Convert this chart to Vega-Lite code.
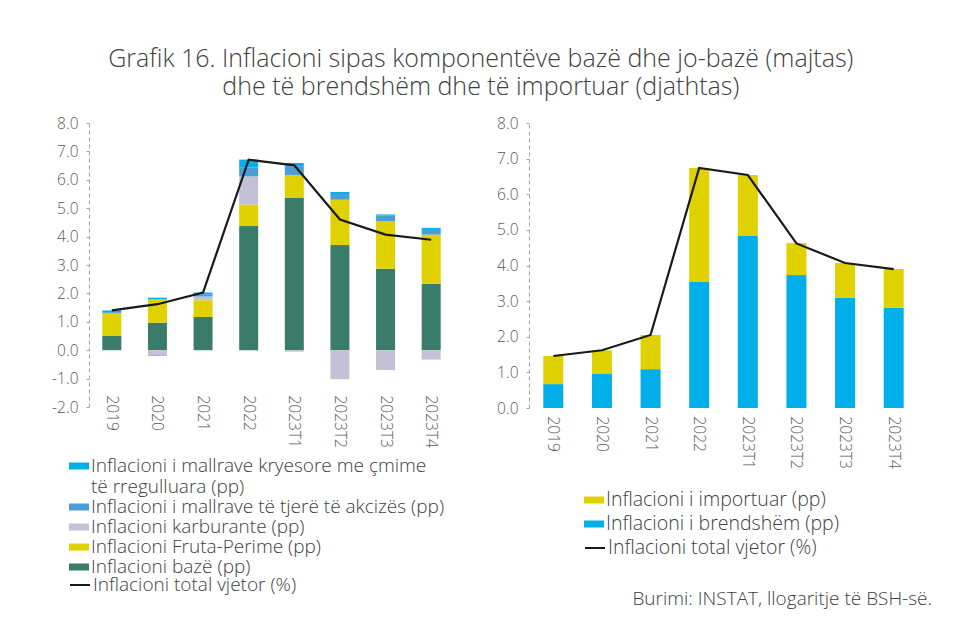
{
  "$schema": "https://vega.github.io/schema/vega-lite/v6.json",
  "background": "white",
  "padding": {"left": 51, "top": 47, "right": 5, "bottom": 5},
  "title": {
    "text": ["Grafik 16. Inflacioni sipas komponentëve bazë dhe jo-bazë (majtas)", "dhe të brendshëm dhe të importuar (djathtas)"],
    "fontSize": 25,
    "font": "Open Sans",
    "fontWeight": 300,
    "color": "#404040",
    "anchor": "middle",
    "lineHeight": 28,
    "offset": 16,
    "dx": -11
  },
  "datasets": {
    "left": [
      {"p": "2019", "c": "Inflacioni bazë (pp)", "v": 0.50},
      {"p": "2019", "c": "Inflacioni Fruta-Perime (pp)", "v": 0.80},
      {"p": "2019", "c": "Inflacioni karburante (pp)", "v": 0.0},
      {"p": "2019", "c": "Inflacioni i mallrave të tjerë të akcizës (pp)", "v": 0.04},
      {"p": "2019", "c": "Inflacioni i mallrave kryesore me çmime të rregulluara (pp)", "v": 0.06},
      {"p": "2020", "c": "Inflacioni bazë (pp)", "v": 0.97},
      {"p": "2020", "c": "Inflacioni Fruta-Perime (pp)", "v": 0.82},
      {"p": "2020", "c": "Inflacioni karburante (pp)", "v": -0.18},
      {"p": "2020", "c": "Inflacioni i mallrave të tjerë të akcizës (pp)", "v": -0.02},
      {"p": "2020", "c": "Inflacioni i mallrave kryesore me çmime të rregulluara (pp)", "v": 0.06},
      {"p": "2021", "c": "Inflacioni bazë (pp)", "v": 1.17},
      {"p": "2021", "c": "Inflacioni Fruta-Perime (pp)", "v": 0.59},
      {"p": "2021", "c": "Inflacioni karburante (pp)", "v": 0.13},
      {"p": "2021", "c": "Inflacioni i mallrave të tjerë të akcizës (pp)", "v": 0.08},
      {"p": "2021", "c": "Inflacioni i mallrave kryesore me çmime të rregulluara (pp)", "v": 0.06},
      {"p": "2022", "c": "Inflacioni bazë (pp)", "v": 4.37},
      {"p": "2022", "c": "Inflacioni Fruta-Perime (pp)", "v": 0.76},
      {"p": "2022", "c": "Inflacioni karburante (pp)", "v": 0.99},
      {"p": "2022", "c": "Inflacioni i mallrave të tjerë të akcizës (pp)", "v": 0.32},
      {"p": "2022", "c": "Inflacioni i mallrave kryesore me çmime të rregulluara (pp)", "v": 0.27},
      {"p": "2023T1", "c": "Inflacioni bazë (pp)", "v": 5.36},
      {"p": "2023T1", "c": "Inflacioni Fruta-Perime (pp)", "v": 0.81},
      {"p": "2023T1", "c": "Inflacioni karburante (pp)", "v": -0.05},
      {"p": "2023T1", "c": "Inflacioni i mallrave të tjerë të akcizës (pp)", "v": 0.31},
      {"p": "2023T1", "c": "Inflacioni i mallrave kryesore me çmime të rregulluara (pp)", "v": 0.11},
      {"p": "2023T2", "c": "Inflacioni bazë (pp)", "v": 3.70},
      {"p": "2023T2", "c": "Inflacioni Fruta-Perime (pp)", "v": 1.60},
      {"p": "2023T2", "c": "Inflacioni karburante (pp)", "v": -1.02},
      {"p": "2023T2", "c": "Inflacioni i mallrave të tjerë të akcizës (pp)", "v": 0.20},
      {"p": "2023T2", "c": "Inflacioni i mallrave kryesore me çmime të rregulluara (pp)", "v": 0.07},
      {"p": "2023T3", "c": "Inflacioni bazë (pp)", "v": 2.87},
      {"p": "2023T3", "c": "Inflacioni Fruta-Perime (pp)", "v": 1.67},
      {"p": "2023T3", "c": "Inflacioni karburante (pp)", "v": -0.70},
      {"p": "2023T3", "c": "Inflacioni i mallrave të tjerë të akcizës (pp)", "v": 0.21},
      {"p": "2023T3", "c": "Inflacioni i mallrave kryesore me çmime të rregulluara (pp)", "v": 0.03},
      {"p": "2023T4", "c": "Inflacioni bazë (pp)", "v": 2.34},
      {"p": "2023T4", "c": "Inflacioni Fruta-Perime (pp)", "v": 1.73},
      {"p": "2023T4", "c": "Inflacioni karburante (pp)", "v": -0.33},
      {"p": "2023T4", "c": "Inflacioni i mallrave të tjerë të akcizës (pp)", "v": 0.20},
      {"p": "2023T4", "c": "Inflacioni i mallrave kryesore me çmime të rregulluara (pp)", "v": 0.04}
    ],
    "leftTotal": [
      {"p": "2019", "t": 1.40},
      {"p": "2020", "t": 1.62},
      {"p": "2021", "t": 2.03},
      {"p": "2022", "t": 6.71},
      {"p": "2023T1", "t": 6.51},
      {"p": "2023T2", "t": 4.60},
      {"p": "2023T3", "t": 4.07},
      {"p": "2023T4", "t": 3.89}
    ],
    "right": [
      {"p": "2019", "c": "Inflacioni i brendshëm (pp)", "v": 0.67},
      {"p": "2019", "c": "Inflacioni i importuar (pp)", "v": 0.79},
      {"p": "2020", "c": "Inflacioni i brendshëm (pp)", "v": 0.97},
      {"p": "2020", "c": "Inflacioni i importuar (pp)", "v": 0.65},
      {"p": "2021", "c": "Inflacioni i brendshëm (pp)", "v": 1.09},
      {"p": "2021", "c": "Inflacioni i importuar (pp)", "v": 0.96},
      {"p": "2022", "c": "Inflacioni i brendshëm (pp)", "v": 3.55},
      {"p": "2022", "c": "Inflacioni i importuar (pp)", "v": 3.19},
      {"p": "2023T1", "c": "Inflacioni i brendshëm (pp)", "v": 4.83},
      {"p": "2023T1", "c": "Inflacioni i importuar (pp)", "v": 1.71},
      {"p": "2023T2", "c": "Inflacioni i brendshëm (pp)", "v": 3.73},
      {"p": "2023T2", "c": "Inflacioni i importuar (pp)", "v": 0.90},
      {"p": "2023T3", "c": "Inflacioni i brendshëm (pp)", "v": 3.09},
      {"p": "2023T3", "c": "Inflacioni i importuar (pp)", "v": 0.98},
      {"p": "2023T4", "c": "Inflacioni i brendshëm (pp)", "v": 2.81},
      {"p": "2023T4", "c": "Inflacioni i importuar (pp)", "v": 1.09}
    ],
    "rightTotal": [
      {"p": "2019", "t": 1.46},
      {"p": "2020", "t": 1.62},
      {"p": "2021", "t": 2.05},
      {"p": "2022", "t": 6.74},
      {"p": "2023T1", "t": 6.54},
      {"p": "2023T2", "t": 4.62},
      {"p": "2023T3", "t": 4.07},
      {"p": "2023T4", "t": 3.90}
    ]
  },
  "spacing": 42,
  "hconcat": [
    {
      "width": 365,
      "height": 284,
      "encoding": {
        "y": {"type": "quantitative", "scale": {"domain": [-2, 8]},
          "axis": {"title": null, "values": [-2, -1, 0, 1, 2, 3, 4, 5, 6, 7, 8], "labelExpr": "replace(format(datum.value, '.1f'), '−', '-')", "labelOverlap": false, "grid": false, "domainDash": [4, 3], "tickSize": 3, "labelPadding": 8}}
      },
      "layer": [
        {
          "data": {"name": "left"},
          "transform": [
            {"calculate": "indexof(['Inflacioni bazë (pp)','Inflacioni Fruta-Perime (pp)','Inflacioni karburante (pp)','Inflacioni i mallrave të tjerë të akcizës (pp)','Inflacioni i mallrave kryesore me çmime të rregulluara (pp)'], datum.c)", "as": "ord"}
          ],
          "mark": {"type": "bar", "width": 19},
          "encoding": {
            "x": {"field": "p", "type": "nominal", "sort": null,
              "axis": {"title": null, "labelAngle": 90, "labelAlign": "left", "labelBaseline": "middle", "ticks": false, "domain": false, "labelPadding": 0, "offset": -12}},
            "y": {"field": "v", "type": "quantitative", "stack": "zero"},
            "color": {"field": "c", "type": "nominal",
              "scale": {
                "domain": ["Inflacioni i mallrave kryesore me çmime të rregulluara (pp)", "Inflacioni i mallrave të tjerë të akcizës (pp)", "Inflacioni karburante (pp)", "Inflacioni Fruta-Perime (pp)", "Inflacioni bazë (pp)"],
                "range": ["#00b0ea", "#4a9ed6", "#c4c0d5", "#e0d100", "#3a7b69"]
              },
              "legend": {"orient": "none", "legendX": -20, "legendY": 333, "title": null,
                "symbolType": "M-1,-0.35L1,-0.35L1,0.35L-1,0.35Z", "symbolSize": 400, "symbolStrokeWidth": 0,
                "labelFontSize": 19, "labelLimit": 700, "rowPadding": 0, "labelOffset": 2,
                "labelExpr": "datum.label == 'Inflacioni i mallrave kryesore me çmime të rregulluara (pp)' ? ['Inflacioni i mallrave kryesore me çmime', 'të rregulluara (pp)'] : datum.label"}
            },
            "order": {"field": "ord", "type": "quantitative"}
          }
        },
        {
          "mark": {"type": "rule", "strokeDash": [6, 4], "color": "#a6a6a6", "strokeWidth": 1.5},
          "encoding": {"y": {"datum": 0}}
        },
        {
          "data": {"name": "leftTotal"},
          "mark": {"type": "line", "strokeWidth": 2.2},
          "encoding": {
            "x": {"field": "p", "type": "nominal", "sort": null},
            "y": {"field": "t", "type": "quantitative"},
            "stroke": {"datum": "Inflacioni total vjetor (%)", "type": "nominal",
              "scale": {"range": ["#1a1a1a"]},
              "legend": {"orient": "none", "legendX": -20, "legendY": 451, "title": null, "symbolType": "stroke", "symbolSize": 400, "symbolStrokeWidth": 2, "labelFontSize": 19, "labelLimit": 700, "labelOffset": 2}}
          }
        }
      ]
    },
    {
      "width": 389,
      "height": 285,
      "title": {"text": "Burimi: INSTAT, llogaritje të BSH-së.", "orient": "bottom", "anchor": "end", "frame": "group", "fontSize": 19, "fontWeight": 300, "color": "#404040", "font": "Open Sans", "offset": 32, "dx": 14},
      "encoding": {
        "y": {"type": "quantitative", "scale": {"domain": [0, 8]},
          "axis": {"title": null, "values": [0, 1, 2, 3, 4, 5, 6, 7, 8], "format": ".1f", "labelOverlap": false, "grid": false, "domainDash": [4, 3], "tickSize": 3, "labelPadding": 8}}
      },
      "layer": [
        {
          "data": {"name": "right"},
          "transform": [
            {"calculate": "indexof(['Inflacioni i brendshëm (pp)','Inflacioni i importuar (pp)'], datum.c)", "as": "ord"}
          ],
          "mark": {"type": "bar", "width": 20},
          "encoding": {
            "x": {"field": "p", "type": "nominal", "sort": null,
              "axis": {"title": null, "labelAngle": 90, "labelAlign": "left", "labelBaseline": "middle", "ticks": false, "domain": false, "labelPadding": 8}},
            "y": {"field": "v", "type": "quantitative", "stack": "zero"},
            "color": {"field": "c", "type": "nominal",
              "scale": {"domain": ["Inflacioni i importuar (pp)", "Inflacioni i brendshëm (pp)"], "range": ["#e0d100", "#00afe9"]},
              "legend": {"orient": "none", "legendX": 55, "legendY": 367, "title": null,
                "symbolType": "M-1,-0.35L1,-0.35L1,0.35L-1,0.35Z", "symbolSize": 400, "symbolStrokeWidth": 0,
                "labelFontSize": 19.5, "labelLimit": 700, "rowPadding": 4, "labelOffset": 2}
            },
            "order": {"field": "ord", "type": "quantitative"}
          }
        },
        {
          "mark": {"type": "rule", "strokeDash": [6, 4], "color": "#a6a6a6", "strokeWidth": 1.5},
          "encoding": {"y": {"datum": 0}}
        },
        {
          "data": {"name": "rightTotal"},
          "mark": {"type": "line", "strokeWidth": 2.2},
          "encoding": {
            "x": {"field": "p", "type": "nominal", "sort": null},
            "y": {"field": "t", "type": "quantitative"},
            "stroke": {"datum": "Inflacioni total vjetor (%)", "type": "nominal",
              "scale": {"range": ["#1a1a1a"]},
              "legend": {"orient": "none", "legendX": 55, "legendY": 414, "title": null, "symbolType": "stroke", "symbolSize": 400, "symbolStrokeWidth": 2, "labelFontSize": 19.5, "labelLimit": 700, "labelOffset": 2}}
          }
        }
      ]
    }
  ],
  "resolve": {"scale": {"color": "independent", "stroke": "independent"}},
  "config": {
    "font": "Open Sans",
    "view": {"stroke": null},
    "axis": {"labelFont": "Open Sans", "labelFontSize": 15.5, "labelColor": "#595959", "domainColor": "#a6a6a6", "tickColor": "#a6a6a6", "labelFontWeight": 300, "labelOverlap": false},
    "legend": {"labelFont": "Open Sans", "labelColor": "#404040", "labelFontWeight": 300}
  }
}
